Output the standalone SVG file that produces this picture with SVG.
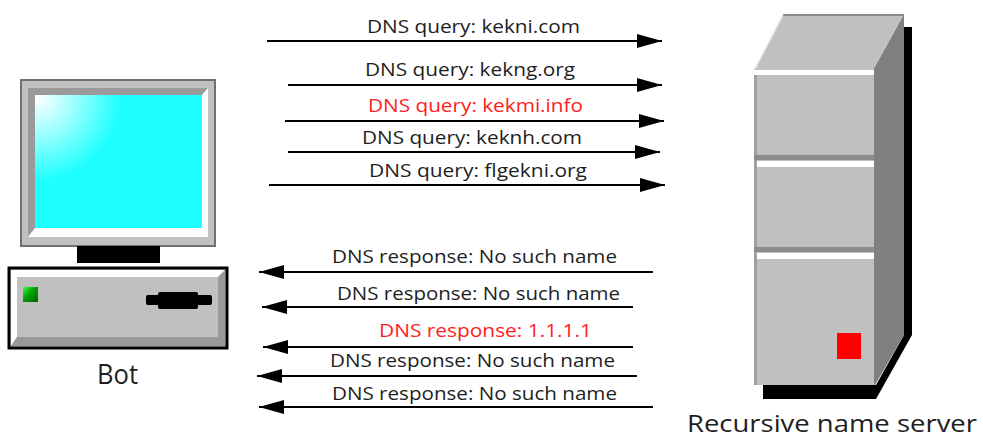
<svg xmlns="http://www.w3.org/2000/svg" width="983" height="438" viewBox="0 0 983 438">
  <style>
    .lbl { font-family: "Open Sans", "Noto Sans", "DejaVu Sans", sans-serif; font-size: 19px; fill: #1E1E1E; }
    .hot { fill: #FF2020; }
    .cap { font-family: "Open Sans", "Noto Sans", "DejaVu Sans", sans-serif; fill: #1E1E1E; }
    .msg { stroke: #000; stroke-width: 2; fill: none; marker-end: url(#head); }
  </style>
  <defs>
    <marker id="head" markerUnits="userSpaceOnUse" markerWidth="26" markerHeight="16" refX="25" refY="8" orient="auto">
      <path d="M0,1 L25,8 L0,15 Z" fill="#000"/>
    </marker>
    <radialGradient id="screenGlow" gradientUnits="userSpaceOnUse" cx="38" cy="98" r="150">
      <stop offset="0" stop-color="#FFFFFF"/>
      <stop offset="0.55" stop-color="#1EFFFF"/>
      <stop offset="1" stop-color="#1EFFFF"/>
    </radialGradient>
    <linearGradient id="led" x1="0" y1="0" x2="1" y2="1">
      <stop offset="0" stop-color="#3CFF3C"/>
      <stop offset="0.45" stop-color="#00A000"/>
      <stop offset="1" stop-color="#006400"/>
    </linearGradient>
  </defs>

  <!-- Bot workstation -->
  <g id="bot">
    <!-- monitor bezel -->
    <rect x="21" y="80" width="194" height="166" fill="#C0C0C0" stroke="#707070" stroke-width="2"/>
    <polygon points="28,88 208,88 202,95 35,95 35,228 28,237" fill="#9A9A9A"/>
    <polygon points="208,88 208,237 28,237 35,228 202,228 202,95" fill="#FFFFFF"/>
    <rect x="35" y="95" width="167" height="133" fill="url(#screenGlow)"/>
    <!-- stand -->
    <rect x="77" y="246" width="83" height="17" fill="#000"/>
    <!-- base unit -->
    <rect x="9" y="268" width="218" height="80" fill="#C0C0C0" stroke="#000" stroke-width="3"/>
    <polygon points="11,270 225,270 218,277 17,277 17,337 11,346" fill="#FFFFFF"/>
    <polygon points="225,270 225,346 11,346 17,337 218,337 218,277" fill="#999999"/>
    <rect x="17" y="277" width="201" height="60" fill="#C0C0C0"/>
    <rect x="23" y="287" width="15" height="15" fill="url(#led)"/>
    <!-- drive slot -->
    <rect x="146" y="295" width="66" height="10" rx="2" fill="#000"/>
    <rect x="158" y="292" width="40" height="17" rx="2" fill="#000"/>
    <text class="cap" x="97" y="384" font-size="27" textLength="41" lengthAdjust="spacingAndGlyphs">Bot</text>
  </g>

  <!-- Recursive name server tower -->
  <g id="server">
    <!-- drop shadow -->
    <polygon points="904,27 912,27 912,335 876,399 763,399 763,385 876,385 904,335" fill="#000"/>
    <!-- side face -->
    <polygon points="873,70 904,14 904,335 875,385 873,385" fill="#808080"/>
    <!-- top face -->
    <polygon points="783,14 904,14 873,70 754,70" fill="#C0C0C0"/>
    <polyline points="783,15 904,15" stroke="#8C8C8C" stroke-width="2" fill="none"/>
    <line x1="783" y1="15" x2="755" y2="69" stroke="#E8E8E8" stroke-width="1.5"/>
    <!-- front face -->
    <rect x="754" y="70" width="120" height="315" fill="#C0C0C0"/>
    <rect x="754" y="70" width="3" height="315" fill="#A0A0A0"/>
    <rect x="754" y="70" width="120" height="5" fill="#FFFFFF"/>
    <rect x="754" y="155" width="120" height="5" fill="#8C8C8C"/>
    <rect x="757" y="161" width="117" height="6" fill="#FFFFFF"/>
    <rect x="754" y="247" width="120" height="5" fill="#8C8C8C"/>
    <rect x="757" y="253" width="117" height="6" fill="#FFFFFF"/>
    <rect x="837" y="333" width="24" height="26" fill="#FF0000"/>
    <text class="cap" x="687" y="432" font-size="23" textLength="290" lengthAdjust="spacingAndGlyphs">Recursive name server</text>
  </g>

  <!-- message arrows -->
  <g id="connectors">
    <line class="msg" x1="267" y1="41" x2="662" y2="41"/>
    <line class="msg" x1="288" y1="85" x2="662" y2="85"/>
    <line class="msg" x1="285" y1="121" x2="664" y2="121"/>
    <line class="msg" x1="288" y1="152" x2="660" y2="152"/>
    <line class="msg" x1="269" y1="185" x2="665" y2="185"/>

    <line class="msg" x1="653" y1="272" x2="259" y2="272"/>
    <line class="msg" x1="633" y1="307" x2="262" y2="307"/>
    <line class="msg" x1="633" y1="347" x2="263" y2="347"/>
    <line class="msg" x1="637" y1="376" x2="257" y2="376"/>
    <line class="msg" x1="653" y1="407" x2="259" y2="407"/>
  </g>

  <!-- message labels -->
  <g id="labels">
    <text class="lbl" x="367" y="33" textLength="213" lengthAdjust="spacingAndGlyphs">DNS query: kekni.com</text>
    <text class="lbl" x="365" y="76" textLength="210" lengthAdjust="spacingAndGlyphs">DNS query: kekng.org</text>
    <text class="lbl hot" x="368" y="112" textLength="215" lengthAdjust="spacingAndGlyphs">DNS query: kekmi.info</text>
    <text class="lbl" x="362" y="144" textLength="220" lengthAdjust="spacingAndGlyphs">DNS query: keknh.com</text>
    <text class="lbl" x="369" y="177" textLength="218" lengthAdjust="spacingAndGlyphs">DNS query: flgekni.org</text>

    <text class="lbl" x="332" y="263" textLength="285" lengthAdjust="spacingAndGlyphs">DNS response: No such name</text>
    <text class="lbl" x="337" y="300" textLength="283" lengthAdjust="spacingAndGlyphs">DNS response: No such name</text>
    <text class="lbl hot" x="379" y="337" textLength="213" lengthAdjust="spacingAndGlyphs">DNS response: 1.1.1.1</text>
    <text class="lbl" x="330" y="367" textLength="285" lengthAdjust="spacingAndGlyphs">DNS response: No such name</text>
    <text class="lbl" x="332" y="400" textLength="285" lengthAdjust="spacingAndGlyphs">DNS response: No such name</text>
  </g>
</svg>
